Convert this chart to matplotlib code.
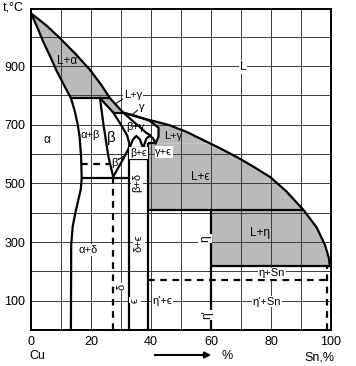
import numpy as np
import matplotlib
matplotlib.use("Agg")
import matplotlib.pyplot as plt

plt.rcParams['font.family'] = ['Liberation Sans', 'DejaVu Sans']

# --- phase boundaries (wt% Sn, degrees C) ---
liq_x = [0, 5, 9.7, 15, 19.7, 23.5, 26.3, 28.6, 30.8, 34, 38, 42, 46.3, 52, 57.4,
         63, 68.6, 74, 79.7, 85, 90.8, 95.2, 98, 99.3, 99.6]
liq_t = [1080, 1040, 995, 940, 887, 835, 791, 765, 741, 731, 720, 710, 698, 675, 648,
         620, 590, 558, 522, 474, 410, 350, 290, 245, 218]

sol_a_x = [0, 2, 4, 6.3, 8.5, 11, 13.3]
sol_a_t = [1080, 1035, 985, 935, 885, 835, 791]

alpha_x = [13.3, 14.5, 15.5, 16.2, 16.7, 16.9, 16.6, 15.8, 14.8, 13.9, 13.4, 13.3]
alpha_t = [791, 750, 705, 660, 590, 518, 480, 445, 400, 353, 290, 0]

beta_l_x = [23, 24.1, 25.8, 27.4]
beta_l_t = [791, 705, 591, 523]
beta_r_x = [27.4, 29.7, 32, 32.8, 32.6, 30, 27.4]
beta_r_t = [742, 705, 665, 635, 620, 570, 523]
beta_sol_x = [23, 27.4]
beta_sol_t = [791, 742]

gam_l_x = [30.8, 34, 36.5, 38.5, 39.7]
gam_l_t = [741, 712, 690, 672, 665]
gam_sol_x = [30.8, 35, 39.5, 42.5, 42.5, 41.5]
gam_sol_t = [741, 730, 714, 690, 660, 637]

arch1_x = [32.8, 34, 35.1, 36.3, 37.4]
arch1_t = [620, 650, 662, 650, 620]
arch2_x = [37.4, 38.4, 39.5, 40.6, 41.5]
arch2_t = [620, 652, 662, 655, 637]

# horizontal lines: x from, x to, temperature
iso_x0 = [13.3, 27.4, 39.1, 32.8, 32.8, 16.9, 39.1, 60]
iso_x1 = [26.3, 30.8, 41.5, 39.1, 39.1, 32.8, 90.8, 99.6]
iso_t = [791, 741, 637, 620, 585, 518, 410, 218]
dash_x0 = [16.8, 39.1]
dash_x1 = [26.3, 98.6]
dash_t = [567, 171]

# vertical lines: x, top temperature (down to 0)
vert_x = [32.8, 39.1, 60]
vert_top = [620, 637, 410]
vdash_x = [27.4, 98.6]
vdash_top = [523, 218]

# gray two-phase fields: liquidus segment between t_hi and t_lo
gray_hi = [1080, 791, 741, 637, 410]
gray_lo = [791, 741, 637, 410, 218]

x_ticks = [0, 20, 40, 60, 80, 100]
y_ticks = [100, 300, 500, 700, 900]

# labels: text, x, t, rotation, white box
lab_txt = ["L+α", "L", "L+γ", "γ", "β+γ", "L+γ", "α", "α+β", "β'", "β+ϵ", "γ+ϵ",
           "L+ϵ", "β+δ", "δ+ϵ", "α+δ", "δ", "ϵ", "η'+ϵ", "η", "η'", "L+η", "η+Sn", "η'+Sn"]
lab_x = [12.2, 70.7, 34.0, 36.8, 34.7, 47.3, 5.2, 19.7, 28.2, 35.8, 44.3,
         56.3, 35.3, 36.0, 19.0, 30.2, 34.7, 43.8, 58.0, 58.7, 76.3, 80.2, 78.6]
lab_t = [916, 898, 800, 762, 693, 661, 648, 665, 569, 603, 606,
         523, 505, 297, 273, 147, 102, 100, 313, 51, 330, 193, 97]
lab_rot = [0, 0, 0, 0, 0, 0, 0, 0, 0, 0, 0,
           0, 90, 90, 0, 90, 90, 0, 90, 90, 0, 0, 0]
lab_box = [False, True, True, True, False, False, True, False, False, True, True,
           False, True, True, True, True, True, True, True, True, False, True, True]
lab_size = [8.5, 8.5, 8, 8, 8, 8, 8.5, 8, 8, 7.5, 8,
            8.5, 8, 8, 8, 8, 8, 8, 8.5, 8.5, 8.5, 8, 8]


def liq_between(t_hi, t_lo):
    # liquidus is falling with x, so interpolate x over reversed arrays
    xs = np.array(liq_x)
    ts = np.array(liq_t)
    x_hi = np.interp(t_hi, ts[::-1], xs[::-1])
    x_lo = np.interp(t_lo, ts[::-1], xs[::-1])
    keep = (ts < t_hi) & (ts > t_lo)
    px = [x_hi] + list(xs[keep]) + [x_lo]
    pt = [t_hi] + list(ts[keep]) + [t_lo]
    return px, pt


fig = plt.figure(figsize=(3.56, 3.66), dpi=100)
ax = fig.add_axes([31 / 356, 36 / 366, 300 / 356, 321 / 366])
ax.set_xlim(0, 100)
ax.set_ylim(0, 1095)

gray = '#bababa'

# L+alpha
px, pt = liq_between(gray_hi[0], gray_lo[0])
ax.fill(px + sol_a_x[::-1], pt + sol_a_t[::-1], color=gray, lw=0, zorder=1)
# L+beta
px, pt = liq_between(gray_hi[1], gray_lo[1])
ax.fill(beta_sol_x[:1] + px + beta_sol_x[1:], beta_sol_t[:1] + pt + beta_sol_t[1:],
        color=gray, lw=0, zorder=1)
# L+gamma
px, pt = liq_between(gray_hi[2], gray_lo[2])
ax.fill(px + gam_sol_x[::-1], pt + gam_sol_t[::-1], color=gray, lw=0, zorder=1)
# L+eps
px, pt = liq_between(gray_hi[3], gray_lo[3])
ax.fill(px + [vert_x[1], vert_x[1]], pt + [gray_lo[3], gray_hi[3]], color=gray, lw=0, zorder=1)
# L+eta
px, pt = liq_between(gray_hi[4], gray_lo[4])
ax.fill(px + [vert_x[2], vert_x[2]], pt + [gray_lo[4], gray_hi[4]], color=gray, lw=0, zorder=1)

# grid
for gx in range(10, 100, 10):
    ax.axvline(gx, color='#3a3a3a', lw=0.7, zorder=2)
for gy in range(100, 1100, 100):
    ax.axhline(gy, color='#3a3a3a', lw=0.7, zorder=2)

lw = 1.6
k = 'black'
ax.plot(liq_x, liq_t, color=k, lw=lw, zorder=4)
ax.plot(sol_a_x, sol_a_t, color=k, lw=lw, zorder=4)
ax.plot(alpha_x, alpha_t, color=k, lw=lw, zorder=4)
ax.plot(beta_l_x, beta_l_t, color=k, lw=lw, zorder=4)
ax.plot(beta_r_x, beta_r_t, color=k, lw=lw, zorder=4)
ax.plot(beta_sol_x, beta_sol_t, color=k, lw=lw, zorder=4)
ax.plot(gam_l_x, gam_l_t, color=k, lw=lw, zorder=4)
ax.plot(gam_sol_x, gam_sol_t, color=k, lw=lw, zorder=4)
ax.plot(arch1_x, arch1_t, color=k, lw=lw, zorder=4)
ax.plot(arch2_x, arch2_t, color=k, lw=lw, zorder=4)

ax.hlines(iso_t, iso_x0, iso_x1, colors=k, lw=lw, zorder=4)
ax.hlines(dash_t, dash_x0, dash_x1, colors=k, lw=lw, linestyles=(0, (3, 2.5)), zorder=4)
ax.vlines(vert_x, 0, vert_top, colors=k, lw=lw, zorder=4)
ax.vlines(vdash_x, 0, vdash_top, colors=k, lw=lw, linestyles=(0, (3, 2.5)), zorder=4)

# leader lines
ax.plot([30.5, 28.2], [787, 772], color=k, lw=0.7, zorder=4)
ax.plot([35.8, 33.5], [752, 733], color=k, lw=0.7, zorder=4)
ax.plot([29.3, 31.6], [582, 598], color=k, lw=0.7, zorder=4)

for txt, x, t, r, b, s in zip(lab_txt, lab_x, lab_t, lab_rot, lab_box, lab_size):
    kw = {}
    if b:
        kw['bbox'] = dict(boxstyle='square,pad=0.08', fc='white', ec='none')
    ax.text(x, t, txt, rotation=r, ha='center', va='center', fontsize=s, zorder=5, **kw)

ax.text(26.9, 654, "β", ha='center', va='center', fontsize=11, zorder=5)

ax.set_xticks(range(0, 101, 10))
ax.set_xticklabels([str(v) if v in x_ticks else '' for v in range(0, 101, 10)], fontsize=9)
ax.set_yticks(range(0, 1001, 100))
ax.set_yticklabels([str(v) if v in y_ticks else '' for v in range(0, 1001, 100)], fontsize=9)
ax.tick_params(length=0, pad=4)
for sp in ax.spines.values():
    sp.set_linewidth(1.4)
    sp.set_zorder(6)

fig.text(3 / 356, 1 - 8 / 366, "t,°C", fontsize=9, va='center')
fig.text(37 / 356, 1 - 356 / 366, "Cu", fontsize=9, va='center', ha='center')
fig.text(319 / 356, 1 - 357 / 366, "Sn,%", fontsize=9, va='center', ha='center')
fig.text(222 / 356, 1 - 356 / 366, "%", fontsize=9, va='center')
fig.add_artist(matplotlib.patches.FancyArrowPatch((152 / 356, 1 - 355 / 366), (214 / 356, 1 - 355 / 366),
                                                  transform=fig.transFigure, arrowstyle='-|>',
                                                  mutation_scale=9, lw=1.5, color=k))

fig.savefig("out.png", dpi=100)
